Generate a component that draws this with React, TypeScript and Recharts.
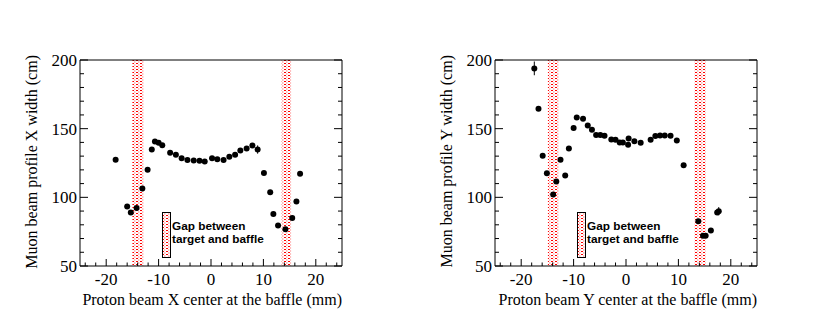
import React from "react";
import { ErrorBar, Legend, ReferenceArea, Scatter, ScatterChart, XAxis, YAxis } from "recharts";

// X-width scan
const xScanPos = [
  -18.2, -16.0, -15.3, -14.2, -13.1, -12.1, -11.3, -10.7, -10.0, -9.3, -7.8, -6.7, -5.6, -4.5, -3.3, -2.2, -1.2,
  0.2, 1.2, 2.4, 3.5, 4.6, 5.6, 6.8, 7.9, 8.9, 10.1, 11.3, 11.9, 12.8, 14.2, 15.5, 16.3, 17.0,
];
const xScanWidth = [
  127.3, 93.3, 88.9, 92.3, 106.4, 120, 134.8, 140.7, 139.7, 138, 132.4, 131, 128.5, 127.1, 126.8, 126.6, 126.1,
  128.5, 127.8, 127.1, 129.5, 131, 134.1, 135.6, 137.8, 134.8, 117.8, 103.7, 87.9, 79.4, 76.7, 85, 96.9, 117.1,
];
const xScanErr = [
  0.8, 0.8, 0.8, 0.8, 0.8, 0.8, 0.8, 0.8, 0.8, 0.8, 0.8, 0.8, 0.8, 0.8, 0.8, 0.8, 0.8,
  0.8, 0.8, 0.8, 0.8, 0.8, 0.8, 0.8, 0.8, 3, 0.8, 0.8, 0.8, 0.8, 0.8, 0.8, 0.8, 0.8,
];

// Y-width scan
const yScanPos = [
  -17.5, -16.7, -15.9, -15.1, -13.9, -13.3, -12.5, -11.6, -10.9, -10.0, -9.4, -8.2, -7.3, -6.5, -5.7, -4.9, -4.1,
  -2.8, -2.0, -1.2, -0.6, 0.4, 0.5, 1.6, 2.8, 4.7, 5.6, 6.5, 7.4, 8.5, 9.7, 11.0, 13.8, 14.7, 15.2, 16.2, 17.4, 17.7,
];
const yScanWidth = [
  193.9, 164.5, 130.2, 117.6, 102, 111.5, 127.3, 115.9, 135.6, 150.4, 158.2, 157.2, 152.3, 149.2, 145.3, 145.3, 144.8,
  142.1, 141.9, 140, 140, 138.2, 142.9, 140.9, 139.7, 141.9, 144.6, 145.1, 145.1, 144.8, 141.4, 123.4, 82.6, 72.1, 72.1,
  75.8, 88.9, 89.9,
];
const yScanErr = [
  5, 0.8, 0.8, 0.8, 1.5, 0.8, 0.8, 0.8, 0.8, 0.8, 0.8, 0.8, 0.8, 0.8, 0.8, 0.8, 0.8,
  0.8, 0.8, 0.8, 0.8, 0.8, 0.8, 0.8, 0.8, 0.8, 0.8, 0.8, 0.8, 0.8, 0.8, 0.8, 1.5, 0.8, 0.8, 0.8, 0.8, 3,
];

// gap between target and baffle (mm)
const xScanGaps = [
  [-15.0, -12.8],
  [13.5, 15.3],
];
const yScanGaps = [
  [-14.9, -12.8],
  [13.0, 15.2],
];

const xMajorTicks = [-20, -10, 0, 10, 20];
const xAllTicks = [-24, -22, -20, -18, -16, -14, -12, -10, -8, -6, -4, -2, 0, 2, 4, 6, 8, 10, 12, 14, 16, 18, 20, 22, 24];
const yMajorTicks = [50, 100, 150, 200];
const yAllTicks = [50, 60, 70, 80, 90, 100, 110, 120, 130, 140, 150, 160, 170, 180, 190, 200];

const serif = "'Liberation Serif', 'DejaVu Serif', serif";
const sans = "'Liberation Sans', Arial, sans-serif";

function DotPattern({ id }: { id: string }) {
  return (
    <pattern id={id} width={4} height={3} patternUnits="userSpaceOnUse">
      <rect x={0} y={0} width={4} height={3} fill="#fff" />
      <rect x={0} y={0} width={2} height={1} fill="#ff0000" />
      <rect x={2} y={1.5} width={1.5} height={1} fill="#ff8080" />
    </pattern>
  );
}

// ROOT-style inward ticks: long for majors, short for minors, labels only on bottom/left
function FrameTick(props: any) {
  const { x, y, payload, side, majors } = props;
  const v = payload.value;
  const major = majors.includes(v);
  const len = major ? (side === "bottom" || side === "top" ? 7 : 8) : side === "bottom" || side === "top" ? 3.5 : 4;
  let x2 = x;
  let y2 = y;
  if (side === "bottom") y2 = y - len;
  if (side === "top") y2 = y + len;
  if (side === "left") x2 = x + len;
  if (side === "right") x2 = x - len;
  return (
    <g>
      <line x1={x} y1={y} x2={x2} y2={y2} stroke="#000" strokeWidth={1} />
      {major && side === "bottom" && (
        <text x={x} y={y + 19} textAnchor="middle" fontSize={17} fontFamily={serif} fill="#000">
          {String(v)}
        </text>
      )}
      {major && side === "left" && (
        <text x={x - 3} y={y} dy="0.35em" textAnchor="end" fontSize={17} fontFamily={serif} fill="#000">
          {String(v)}
        </text>
      )}
    </g>
  );
}

function XTitle(props: any) {
  const vb = props.viewBox || {};
  return (
    <text x={vb.x + vb.width} y={vb.y + 39} textAnchor="end" fontSize={16} fontFamily={serif} fill="#000">
      {props.text}
    </text>
  );
}

function YTitle(props: any) {
  const vb = props.viewBox || {};
  const x = vb.x + vb.width - 43;
  const y = vb.y - 5;
  return (
    <text x={x} y={y} textAnchor="end" transform={`rotate(-90, ${x}, ${y})`} fontSize={16} fontFamily={serif} fill="#000">
      {props.text}
    </text>
  );
}

function GapLegend({ id }: { id: string }) {
  return (
    <svg width={110} height={48} style={{ display: "block" }}>
      <defs>
        <DotPattern id={id} />
      </defs>
      <rect x={0.5} y={0.5} width={8} height={45} fill={`url(#${id})`} stroke="#000" strokeWidth={1} />
      <text x={10} y={18} fontSize={11.8} fontWeight="bold" fontFamily={sans} fill="#000">
        Gap between
      </text>
      <text x={10} y={31} fontSize={11.8} fontWeight="bold" fontFamily={sans} fill="#000">
        target and baffle
      </text>
    </svg>
  );
}

type PanelProps = {
  id: string;
  pos: number[];
  width: number[];
  err: number[];
  gaps: number[][];
  xTitle: string;
  yTitle: string;
};

function Panel({ id, pos, width, err, gaps, xTitle, yTitle }: PanelProps) {
  const data = pos.map((x, i) => ({ x, y: width[i], err: err[i] }));
  const fillId = `gap-${id}`;
  const xCommon = {
    type: "number" as const,
    domain: [-25, 25],
    allowDataOverflow: true,
    height: 1,
    interval: 0 as const,
    ticks: xAllTicks,
    tickSize: 0,
    tickMargin: 0,
    tickLine: false,
    axisLine: { stroke: "#000", strokeWidth: 1 },
  };
  const yCommon = {
    type: "number" as const,
    domain: [50, 200],
    allowDataOverflow: true,
    width: 1,
    interval: 0 as const,
    ticks: yAllTicks,
    tickSize: 0,
    tickMargin: 0,
    tickLine: false,
    axisLine: { stroke: "#000", strokeWidth: 1 },
  };

  return (
    <ScatterChart width={415} height={328} margin={{ top: 59, right: 72, bottom: 61, left: 79 }}>
      <defs>
        <DotPattern id={fillId} />
      </defs>
      <XAxis
        xAxisId="main"
        dataKey="x"
        {...xCommon}
        tick={(p: any) => <FrameTick {...p} side="bottom" majors={xMajorTicks} />}
        label={<XTitle text={xTitle} />}
      />
      <XAxis
        xAxisId="top"
        orientation="top"
        {...xCommon}
        tick={(p: any) => <FrameTick {...p} side="top" majors={xMajorTicks} />}
      />
      <YAxis
        yAxisId="main"
        dataKey="y"
        {...yCommon}
        tick={(p: any) => <FrameTick {...p} side="left" majors={yMajorTicks} />}
        label={<YTitle text={yTitle} />}
      />
      <YAxis
        yAxisId="right"
        orientation="right"
        {...yCommon}
        tick={(p: any) => <FrameTick {...p} side="right" majors={yMajorTicks} />}
      />

      {gaps.map(([a, b], i) => (
        <ReferenceArea
          key={i}
          xAxisId="main"
          yAxisId="main"
          x1={a}
          x2={b}
          y1={50}
          y2={200}
          fill={`url(#${fillId})`}
          fillOpacity={1}
          stroke="none"
          ifOverflow="hidden"
        />
      ))}

      <Scatter
        xAxisId="main"
        yAxisId="main"
        data={data}
        fill="#000"
        isAnimationActive={false}
        shape={(p: any) => <circle cx={p.cx} cy={p.cy} r={3} fill="#000" />}
      >
        <ErrorBar dataKey="err" direction="y" width={0} stroke="#000" strokeWidth={1} />
      </Scatter>

      <Legend
        layout="horizontal"
        verticalAlign="middle"
        align="center"
        content={() => <GapLegend id={`leg-${id}`} />}
        wrapperStyle={{ position: "absolute", left: 162, top: 212, width: 110, height: 48 }}
      />
    </ScatterChart>
  );
}

export default function App() {
  return (
    <div style={{ position: "absolute", left: 0, top: 0, width: 830, height: 328, background: "#fff", display: "flex" }}>
      <Panel
        id="xs"
        pos={xScanPos}
        width={xScanWidth}
        err={xScanErr}
        gaps={xScanGaps}
        xTitle="Proton beam X center at the baffle (mm)"
        yTitle="Muon beam profile X width (cm)"
      />
      <Panel
        id="ys"
        pos={yScanPos}
        width={yScanWidth}
        err={yScanErr}
        gaps={yScanGaps}
        xTitle="Proton beam Y center at the baffle (mm)"
        yTitle="Muon beam profile Y width (cm)"
      />
    </div>
  );
}
